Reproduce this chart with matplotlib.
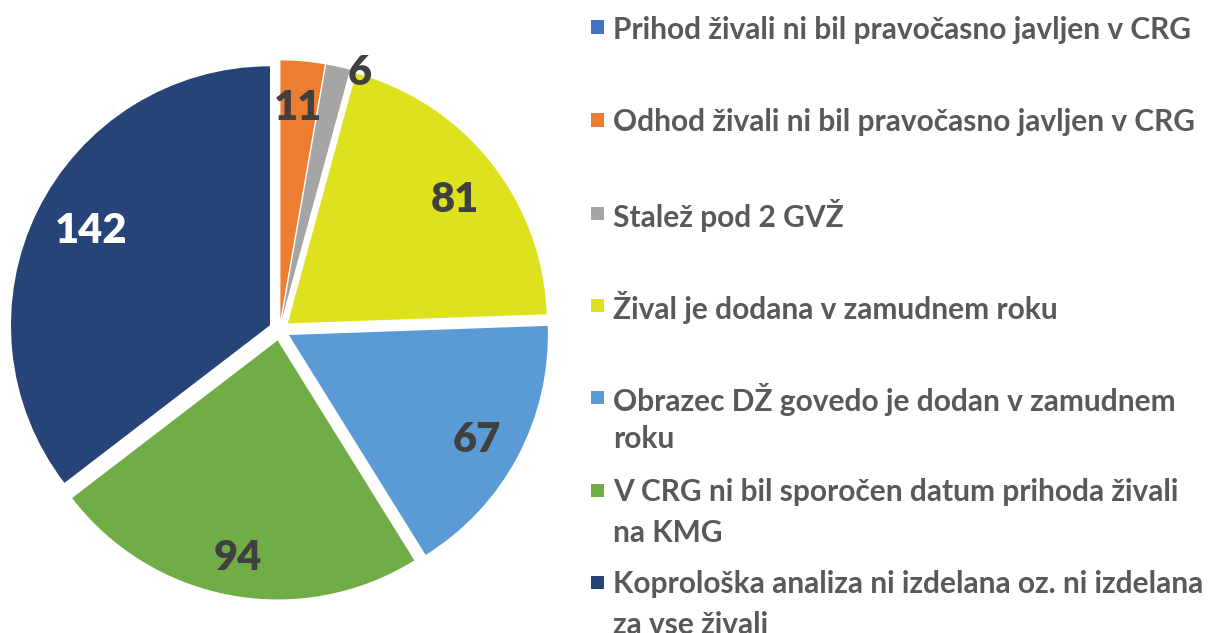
import numpy as np
import matplotlib
matplotlib.use("Agg")
import matplotlib.pyplot as plt
from matplotlib.patches import Rectangle

# ---- data ----
categories = [
    "Prihod živali ni bil pravočasno javljen v CRG",
    "Odhod živali ni bil pravočasno javljen v CRG",
    "Stalež pod 2 GVŽ",
    "Žival je dodana v zamudnem roku",
    "Obrazec DŽ govedo je dodan v zamudnem\nroku",
    "V CRG ni bil sporočen datum prihoda živali\nna KMG",
    "Koprološka analiza ni izdelana oz. ni izdelana\nza vse živali",
]
values = [0, 11, 6, 81, 67, 94, 142]
colors = ["#4472C4", "#ED7D31", "#A5A5A5", "#DEE11E", "#5B9BD5", "#70AD47", "#264478"]
label_colors = ["#404040", "#404040", "#404040", "#404040", "#404040", "#404040", "#FFFFFF"]

# label placement (radius as fraction of pie radius, angular shift in degrees)
label_r = [0, 0.872, 1.05, 0.849, 0.867, 0.883, 0.826]
label_dtheta = [0, 0.2, -4.6, -1.2, -0.3, -0.2, -2.1]

plt.rcParams['font.family'] = ['Lato', 'DejaVu Sans']

W, H = 1214, 633
fig = plt.figure(figsize=(W / 100, H / 100), dpi=100)

# pie axes: centre at (279.5, 330) px from top, radius 259 px
R = 259.0
cx, cy = 279.5, H - 330.0
lim = 1.25
size = 2 * lim * R
ax = fig.add_axes([(cx - size / 2) / W, (cy - size / 2) / H, size / W, size / H])

explode = [0.041] * len(values)
wedges, _ = ax.pie(values, colors=colors, startangle=90, counterclock=False,
                   explode=explode, radius=1.0,
                   wedgeprops=dict(linewidth=0))
ax.set_xlim(-lim, lim)
ax.set_ylim(-lim, lim)
ax.set_aspect('equal')
ax.axis('off')

digit_h = 30.0 / R  # visual digit height in data units
for i, w in enumerate(wedges):
    if values[i] == 0:
        continue
    mid = np.deg2rad((w.theta1 + w.theta2) / 2 + label_dtheta[i])
    x, y = label_r[i] * np.cos(mid), label_r[i] * np.sin(mid)
    ax.text(x, y - digit_h / 2, str(values[i]), ha='center', va='baseline', fontsize=30,
            fontweight='heavy', color=label_colors[i])

# ---- legend (manual) ----
first_line_y = [27, 120, 213, 305, 397, 490, 582]
text_x = 613
marker_x = 591
msz = 13
for i, lab in enumerate(categories):
    yc = first_line_y[i]
    fig.patches.append(Rectangle((marker_x / W, (H - yc - msz / 2) / H), msz / W, msz / H,
                                 transform=fig.transFigure, facecolor=colors[i],
                                 edgecolor='none'))
    for j, line in enumerate(lab.split("\n")):
        fig.text(text_x / W, (H - yc - 40 * j) / H, line, ha='left', va='center_baseline',
                 fontsize=21.5, fontweight='bold', color='#595959')

fig.savefig("out.png", dpi=100)
